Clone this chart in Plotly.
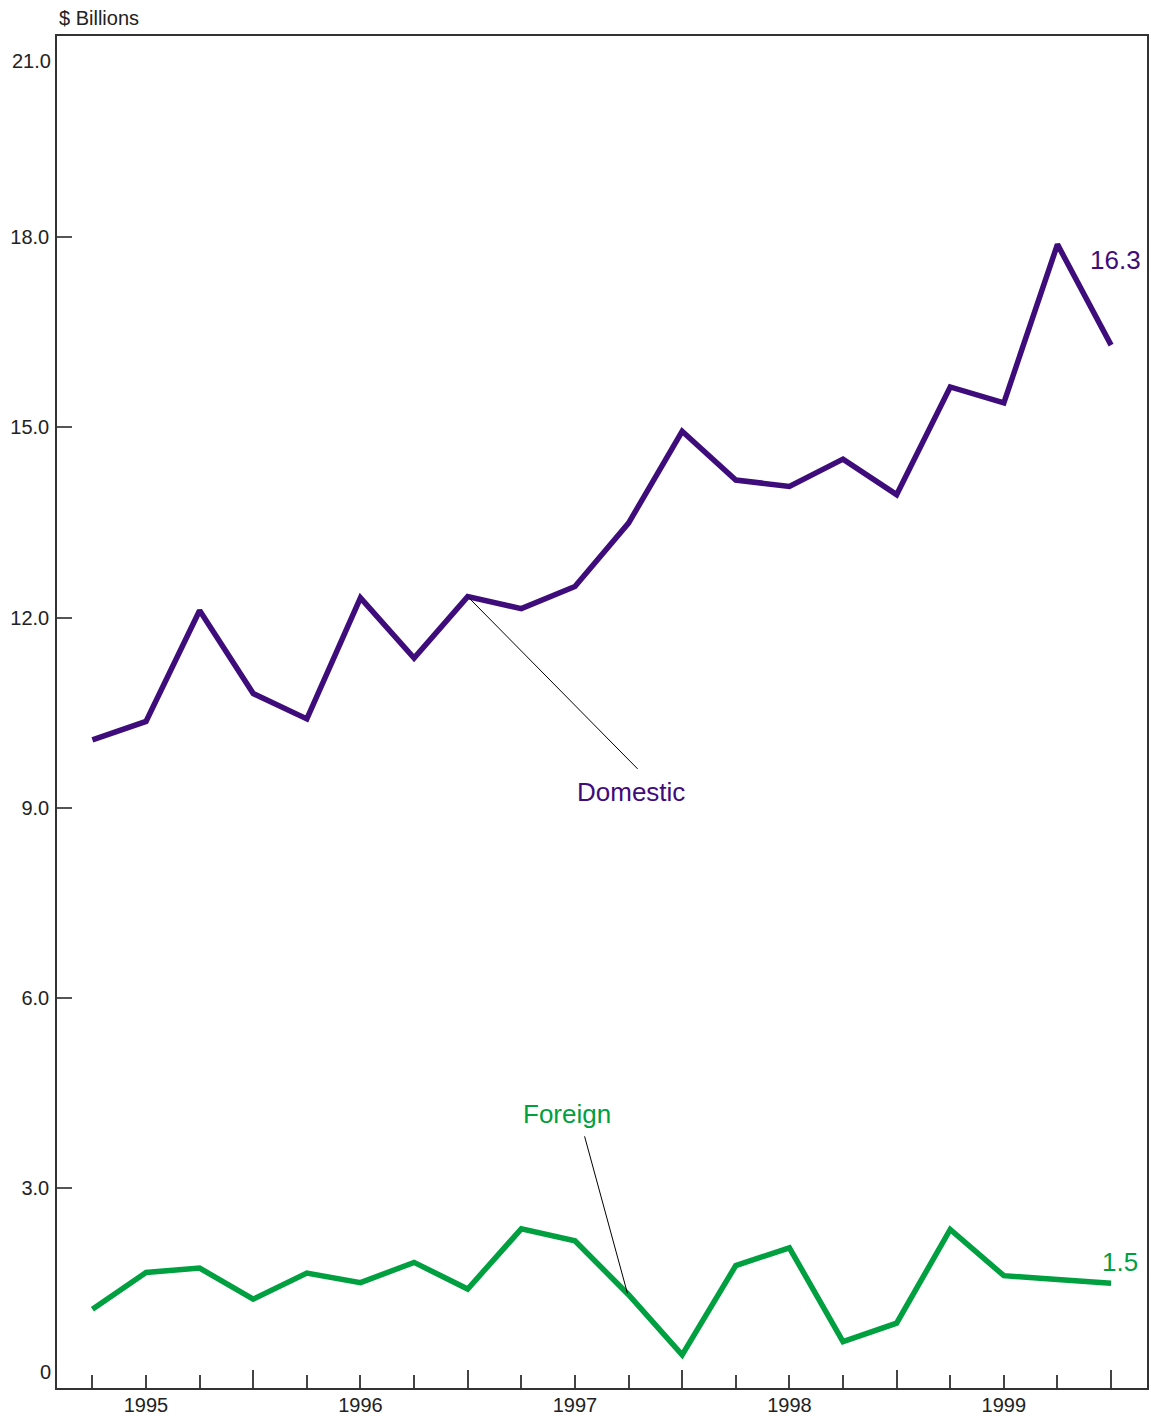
import plotly.graph_objects as go

quarters = list(range(20))
domestic = [10.07, 10.36, 12.11, 10.80, 10.40, 12.31, 11.36, 12.33, 12.14, 12.49,
            13.49, 14.94, 14.17, 14.07, 14.50, 13.94, 15.64, 15.39, 17.89, 16.30]
foreign = [1.08, 1.66, 1.73, 1.24, 1.65, 1.50, 1.82, 1.40, 2.35, 2.16,
           1.31, 0.36, 1.77, 2.05, 0.57, 0.86, 2.34, 1.61, 1.55, 1.49]
year_labels = ["1995", "1996", "1997", "1998", "1999"]
year_pos = [1, 5, 9, 13, 17]
year_end_pos = [3, 7, 11, 15, 19]
y_ticks = [3, 6, 9, 12, 15, 18]
y_tick_text = ["3.0", "6.0", "9.0", "12.0", "15.0", "18.0"]

PURPLE = "#3f0c7c"
GREEN = "#00a040"
FONT = "Liberation Sans, Arial, sans-serif"

XR = [-0.66, 19.67]
YR = [-0.163, 21.18]

fig = go.Figure()
fig.add_trace(go.Scatter(x=quarters, y=domestic, mode="lines",
                         line=dict(color=PURPLE, width=5.5), showlegend=False, hoverinfo="skip"))
fig.add_trace(go.Scatter(x=quarters, y=foreign, mode="lines",
                         line=dict(color=GREEN, width=5.5), showlegend=False, hoverinfo="skip"))
# invisible trace to activate overlay axis for the longer year-end ticks
fig.add_trace(go.Scatter(x=[None], y=[None], xaxis="x2", yaxis="y", showlegend=False, hoverinfo="skip"))

ticktext = [""] * 20
for p, t in zip(year_pos, year_labels):
    ticktext[p] = t

fig.update_layout(
    width=1151, height=1416,
    margin=dict(l=57, r=4, t=36, b=28, autoexpand=False),
    paper_bgcolor="white", plot_bgcolor="white",
    font=dict(family=FONT, size=20, color="#222"),
    xaxis=dict(range=XR, tickmode="array", tickvals=quarters, ticktext=ticktext,
               ticks="inside", ticklen=13, tickwidth=1.5, tickcolor="#444",
               showline=True, linecolor="#333", linewidth=1.5, mirror=True,
               showgrid=False, zeroline=False, ticklabelstandoff=-2, automargin=False,
               tickfont=dict(size=20, color="#222")),
    xaxis2=dict(range=XR, overlaying="x", anchor="y", side="bottom",
                tickmode="array", tickvals=year_end_pos, ticktext=[""] * 5,
                ticks="inside", ticklen=18, tickwidth=1.5, tickcolor="#444",
                showline=False, showgrid=False, zeroline=False, automargin=False),
    yaxis=dict(range=YR, tickmode="array", tickvals=y_ticks, ticktext=y_tick_text,
               ticks="inside", ticklen=15, tickwidth=1.5, tickcolor="#555",
               showline=True, linecolor="#333", linewidth=1.5, mirror=True,
               showgrid=False, zeroline=False, ticklabelstandoff=2, automargin=False,
               tickfont=dict(size=20, color="#222")),
)

# leader lines
fig.add_shape(type="line", xref="x", yref="y", x0=7, y0=domestic[7], x1=10.17, y1=9.61,
              line=dict(color="black", width=1))
fig.add_shape(type="line", xref="x", yref="y", x0=9.18, y0=3.81, x1=9.98, y1=1.33,
              line=dict(color="black", width=1))

ann = [
    dict(text="$ Billions", xref="paper", yref="paper", x=0, y=1.0133, xanchor="left",
         yanchor="middle", font=dict(size=20, color="#222")),
    dict(text="21.0", xref="paper", yref="y", x=-0.004, y=20.78, xanchor="right",
         yanchor="middle", font=dict(size=20, color="#222")),
    dict(text="0", xref="paper", yref="y", x=-0.004, y=0.095, xanchor="right",
         yanchor="middle", font=dict(size=20, color="#222")),
    dict(text="Domestic", xref="x", yref="y", x=10.05, y=9.25, xanchor="center",
         yanchor="middle", font=dict(size=26, color=PURPLE)),
    dict(text="Foreign", xref="x", yref="y", x=8.85, y=4.16, xanchor="center",
         yanchor="middle", font=dict(size=26, color=GREEN)),
    dict(text="16.3", xref="x", yref="y", x=19.08, y=17.64, xanchor="center",
         yanchor="middle", font=dict(size=26, color=PURPLE)),
    dict(text="1.5", xref="x", yref="y", x=19.16, y=1.83, xanchor="center",
         yanchor="middle", font=dict(size=26, color=GREEN)),
]
for a in ann:
    fig.add_annotation(showarrow=False, **a)

# remove the browser's default 8px body margin so the figure fills the window exactly
fig.write_html("out.html", config={"displayModeBar": False},
               post_script="document.body.style.margin='0';document.body.style.overflow='hidden';")
